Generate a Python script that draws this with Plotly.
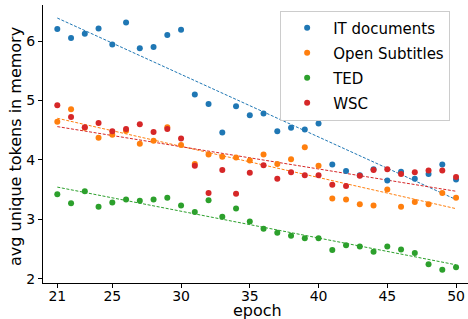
import numpy as np
import plotly.graph_objects as go

epochs = list(range(21, 51))

it_documents = [6.20, 6.05, 6.12, 6.21, 5.94, 6.31, 5.88, 5.90, 6.10, 6.19,
                5.10, 4.94, 4.46, 4.90, 4.75, 4.78, 4.48, 4.54, 4.51, 4.61,
                3.92, 3.81, 3.74, 3.84, 3.65, 3.80, 3.68, 3.76, 3.92, 3.67]

open_subtitles = [4.64, 4.85, 4.54, 4.37, 4.42, 4.49, 4.27, 4.32, 4.55, 4.25,
                  3.93, 4.09, 4.05, 4.04, 3.99, 4.09, 3.93, 4.01, 4.21, 3.90,
                  3.35, 3.33, 3.25, 3.23, 3.50, 3.21, 3.29, 3.25, 3.44, 3.36]

ted = [3.42, 3.27, 3.47, 3.21, 3.28, 3.33, 3.31, 3.33, 3.36, 3.23,
       3.12, 3.32, 3.04, 3.18, 2.96, 2.84, 2.77, 2.72, 2.68, 2.68,
       2.48, 2.56, 2.54, 2.45, 2.54, 2.49, 2.43, 2.24, 2.15, 2.19]

wsc = [4.92, 4.72, 4.55, 4.62, 4.48, 4.52, 4.60, 4.47, 4.52, 4.36,
       3.90, 3.44, 3.83, 3.43, 3.78, 3.91, 3.68, 3.79, 3.74, 3.74,
       3.58, 3.56, 3.73, 3.83, 3.84, 3.76, 3.79, 3.82, 3.82, 3.71]

series_names = ["IT documents", "Open Subtitles", "TED", "WSC"]
series_values = [it_documents, open_subtitles, ted, wsc]
colors = ["#1f77b4", "#ff7f0e", "#2ca02c", "#d62728"]

x_ticks = [21, 25, 30, 35, 40, 45, 50]
y_ticks = [2, 3, 4, 5, 6]

FONT = "DejaVu Sans"

fig = go.Figure()

# dashed linear trend lines (fitted from the data)
x_arr = np.array(epochs, dtype=float)
for vals, c in zip(series_values, colors):
    k, b = np.polyfit(x_arr, np.array(vals), 1)
    fig.add_trace(go.Scatter(
        x=[epochs[0], epochs[-1]], y=[k * epochs[0] + b, k * epochs[-1] + b],
        mode="lines", line=dict(color=c, width=1, dash="3px,1.6px"),
        showlegend=False, hoverinfo="skip"))

for name, vals, c in zip(series_names, series_values, colors):
    fig.add_trace(go.Scatter(
        x=epochs, y=vals, mode="markers", name=name, legendgroup=name,
        marker=dict(color=c, size=6, line=dict(width=0))))

fig.update_layout(
    width=468, height=319,
    margin=dict(l=43, r=0, t=5, b=36, autoexpand=False),
    paper_bgcolor="white", plot_bgcolor="white",
    font=dict(family=FONT, size=14, color="black"),
    showlegend=True,
    legend=dict(
        x=0.558, y=0.98, xanchor="left", yanchor="top",
        bgcolor="rgba(255,255,255,0.8)", bordercolor="#cccccc", borderwidth=1,
        font=dict(family=FONT, size=15, color="black"),
        itemwidth=42, tracegroupgap=2.5,
    ),
    annotations=[
        dict(text="epoch", xref="paper", yref="paper", x=0.505, y=-0.098,
             xanchor="center", yanchor="middle", showarrow=False,
             font=dict(family=FONT, size=16)),
        dict(text="avg unique tokens in memory", xref="paper", yref="paper",
             x=-0.063, y=0.49, xanchor="center", yanchor="middle", textangle=-90,
             showarrow=False, font=dict(family=FONT, size=16)),
    ],
)

fig.update_xaxes(
    range=[19.96, 50.87], tickmode="array", tickvals=x_ticks,
    ticks="outside", ticklen=4, tickwidth=1, tickcolor="black",
    showline=True, linecolor="black", linewidth=1.2, mirror=False,
    showgrid=False, zeroline=False, automargin=False,
    tickfont=dict(family=FONT, size=14), ticklabelstandoff=-4,
)
fig.update_yaxes(
    range=[1.926, 6.606], tickmode="array", tickvals=y_ticks,
    ticks="outside", ticklen=4, tickwidth=1, tickcolor="black",
    showline=True, linecolor="black", linewidth=1.2, mirror=False,
    showgrid=False, zeroline=False, automargin=False,
    tickfont=dict(family=FONT, size=14),
)

fig.write_html(
    "out.html",
    config={"displayModeBar": False},
    post_script="document.body.style.margin='0';document.body.style.overflow='hidden';",
)
